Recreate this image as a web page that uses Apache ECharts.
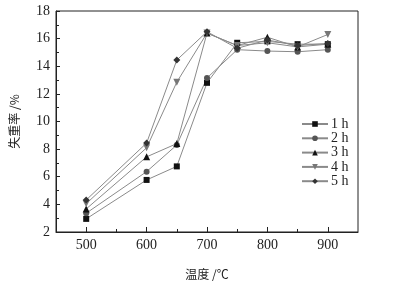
<!DOCTYPE html>
<html><head><meta charset="utf-8">
<script src="https://cdn.jsdelivr.net/npm/echarts@6/dist/echarts.min.js"></script>
<style>html,body{margin:0;padding:0;background:#fff}#c{width:404px;height:285px}</style>
</head><body><div id="c"></div>
<script>
var temps = [500, 600, 650, 700, 750, 800, 850, 900];
var seriesNames = ['1 h', '2 h', '3 h', '4 h', '5 h'];
var s1h = [2.95, 5.77, 6.75, 12.8, 15.7, 15.8, 15.6, 15.6];
var s2h = [3.36, 6.37, 8.3, 13.15, 15.2, 15.1, 15.05, 15.2];
var s3h = [3.67, 7.44, 8.4, 16.4, 15.5, 16.1, 15.4, 15.6];
var s4h = [4.05, 8.1, 12.85, 16.4, 15.5, 15.7, 15.4, 16.3];
var s5h = [4.32, 8.44, 14.45, 16.5, 15.3, 15.9, 15.5, 15.65];
var xLabels = [500, 600, 700, 800, 900];
var xMinorTicks = [550, 650, 750, 850];

var allData = [s1h, s2h, s3h, s4h, s5h];
var symbols = ['rect', 'circle', 'triangle', 'path://M0,0 L10,0 L5,9 Z', 'diamond'];
var symSizes = [6, 6, 7, 7, 7];
var markerColors = ['#111', '#555', '#111', '#777', '#333'];

var chart = echarts.init(document.getElementById('c'));
var serif = '"Liberation Serif", "DejaVu Serif", serif';
var series = seriesNames.map(function (n, i) {
  return {
    name: n, type: 'line',
    data: temps.map(function (t, j) { return [t, allData[i][j]]; }),
    symbol: symbols[i], symbolSize: symSizes[i], showSymbol: true,
    itemStyle: { color: markerColors[i] },
    lineStyle: { color: '#8a8a8a', width: 1 },
    emphasis: { disabled: true }, animation: false
  };
});
chart.setOption({
  animation: false,
  grid: { left: 51, top: 11, right: 46, bottom: 50, show: true, borderColor: '#222', borderWidth: 1 },
  legend: {
    orient: 'vertical', left: 296, top: 112, itemWidth: 26, itemHeight: 7, itemGap: 0.3,
    textStyle: { fontFamily: serif, fontSize: 14, color: '#222', lineHeight: 13, padding: [0, 0, 0, -2] },
    data: seriesNames
  },
  xAxis: [{
    type: 'value', min: 450, max: 950, interval: 50,
    name: '温度 /℃', nameLocation: 'middle', nameGap: 36,
    nameTextStyle: { fontFamily: '"Noto Sans CJK SC"', fontSize: 12, color: '#222' },
    axisLine: { lineStyle: { color: '#222' } },
    axisTick: { inside: true, length: 5, lineStyle: { color: '#222' }, customValues: xLabels },
    axisLabel: { fontFamily: serif, fontSize: 14, color: '#222', margin: 6, customValues: xLabels },
    splitLine: { show: false }
  }, {
    type: 'value', min: 450, max: 950, interval: 50, position: 'bottom',
    axisLine: { show: false },
    axisTick: { inside: true, length: 3, lineStyle: { color: '#222' }, customValues: xMinorTicks },
    axisLabel: { show: false }, splitLine: { show: false }
  }],
  yAxis: {
    type: 'value', min: 2, max: 18, interval: 2,
    name: '失重率 /%', nameLocation: 'middle', nameGap: 36,
    nameTextStyle: { fontFamily: '"Noto Sans CJK SC"', fontSize: 12, color: '#222' },
    axisLine: { show: true, lineStyle: { color: '#222' } },
    axisTick: { show: true, inside: true, length: 4, lineStyle: { color: '#222' } },
    minorTick: { show: true, splitNumber: 2, length: 3, lineStyle: { color: '#222' } },
    axisLabel: { fontFamily: serif, fontSize: 14, color: '#222', margin: 6 },
    splitLine: { show: false }
  },
  series: series
});
</script></body></html>
